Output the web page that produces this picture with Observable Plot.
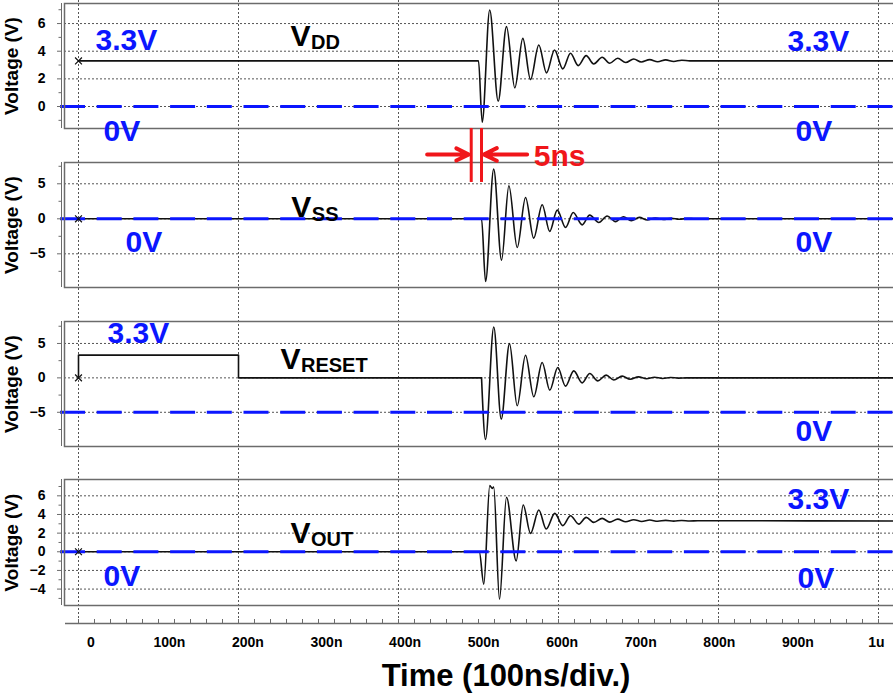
<!DOCTYPE html>
<html><head><meta charset="utf-8">
<script src="https://cdn.jsdelivr.net/npm/d3@7"></script>
<script src="https://cdn.jsdelivr.net/npm/@observablehq/plot@0.6"></script>
<style>
body{margin:0;background:#fff;}
#chart{position:relative;width:893px;height:695px;overflow:hidden;font-family:"Liberation Sans",Arial,Helvetica,sans-serif;}
#chart svg{position:absolute;left:0;overflow:visible;}
#title{position:absolute;left:256px;width:500px;top:660px;text-align:center;font:bold 31px/31px "Liberation Sans",Arial,sans-serif;color:#000;white-space:nowrap;}
</style></head><body><div id="chart"><div id="title">Time (100ns/div.)</div></div>
<script>
// ---------------- data ----------------
const timeTicks = [0, 100, 200, 300, 400, 500, 600, 700, 800, 900, 1000];
const timeTickLabels = ["0", "100n", "200n", "300n", "400n", "500n", "600n", "700n", "800n", "900n", "1u"];
const gridTimes = [0, 200, 400, 600, 800, 1000];

// VDD (ns, V)
const vddT = [0, 500, 504.6, 514, 524.6, 535, 545.4, 555.4, 565, 575.4, 585, 595, 605.4, 615, 624.6, 634.6, 644, 654.6, 664, 674, 684, 694, 703.4, 714, 724, 734, 744, 754, 764, 1025];
const vddV = [3.3, 3.3, -1.13, 6.98, 0.38, 5.78, 1.35, 4.93, 1.95, 4.45, 2.43, 4.09, 2.72, 3.85, 2.96, 3.68, 3.08, 3.56, 3.13, 3.49, 3.18, 3.44, 3.22, 3.39, 3.24, 3.37, 3.26, 3.35, 3.3, 3.3];

// VSS
const vssT = [0, 503.8, 508.8, 519, 528.8, 538, 548.4, 558.8, 569, 579.6, 589, 598.4, 608.8, 618.4, 629.6, 639, 650.4, 660.8, 671.2, 681, 691, 701, 711, 721, 731, 741, 751, 761, 771, 1025];
const vssV = [0, 0, -8.95, 7.1, -5.9, 4.71, -4.1, 3.05, -2.76, 2.0, -1.8, 1.24, -1.24, 0.9, -0.86, 0.52, -0.52, 0.4, -0.4, 0.3, -0.28, 0.2, -0.18, 0.12, -0.1, 0.08, -0.06, 0.05, 0, 0];

// VRESET: pulse, then ringing
const vresetStepT = [0, 0, 200, 200, 503.8];
const vresetStepV = [0, 3.3, 3.3, 0, 0];
const vresetT = [503.8, 508.75, 519.1, 528.4, 538.75, 548.4, 558.75, 569.1, 579.6, 589.1, 599.1, 608.75, 619.1, 629.6, 639.1, 649.1, 659.6, 669.1, 679.6, 689.6, 700, 710, 720, 730, 740, 750, 760, 1025];
const vresetV = [0, -8.93, 7.39, -5.99, 4.98, -4.06, 3.29, -2.75, 2.23, -1.78, 1.5, -1.2, 1.02, -0.72, 0.63, -0.43, 0.4, -0.3, 0.25, -0.2, 0.15, -0.12, 0.1, -0.08, 0.06, -0.04, 0, 0];

// VOUT
const voutT = [0, 501, 506.6, 514.1, 517, 519, 526.25, 535, 547.1, 555.9, 565, 575.4, 584.6, 595.4, 605.4, 615, 625.4, 634.6, 644.1, 654.6, 664, 674, 684, 694, 704, 714, 724, 734, 744, 754, 764, 774, 1025];
const voutV = [0, 0, -3.47, 7.1, 6.8, 6.95, -5.09, 5.84, -0.97, 5.02, 1.97, 4.48, 2.44, 4.12, 2.8, 3.87, 2.97, 3.69, 3.15, 3.58, 3.18, 3.5, 3.22, 3.44, 3.25, 3.4, 3.27, 3.37, 3.29, 3.35, 3.3, 3.33, 3.3];

// signal names and their anchors (ns, V)
const signalSubs = ["DD", "SS", "RESET", "OUT"];
const nameT = [265, 266, 252.5, 265];
const nameV = [4.41, 0.19, 1.33, 0.96];
const referenceLevels = [0, 0, -5, 0];
const startLevels = [3.3, 0, 0, 0];

// blue level annotations per panel
const levelLabels = [
  [{t: 21.25, v: 4.12, text: "3.3V"}, {t: 31.25, v: -2.46, text: "0V"}, {t: 886.25, v: 4.05, text: "3.3V"}, {t: 896.25, v: -2.46, text: "0V"}],
  [{t: 58.75, v: -4.81, text: "0V"}, {t: 896.25, v: -4.81, text: "0V"}],
  [{t: 36.25, v: 5.1, text: "3.3V"}, {t: 896.25, v: -9.1, text: "0V"}],
  [{t: 31.25, v: -3.64, text: "0V"}, {t: 886.25, v: 4.61, text: "3.3V"}, {t: 898.75, v: -3.86, text: "0V"}]
];

// red 5ns annotation (panel 2 coordinates)
const markerTimes = [490.9, 503.75];
const markerSpan = [5.19, 12.9];
const arrows = [{t1: 435.8, t2: 487.9, v: 9.19}, {t1: 560.8, t2: 506.6, v: 9.19}];
const markerText = [{t: 569, v: 7.47, text: "5ns"}];

// ---------------- layout ----------------
const W = 893, ML = 64, MR = -5;
const X_DOMAIN = [-17.5, 1025];
const LABEL_DOMAIN = [-33.5, 1028.1];
const BLUE = "#0b16ff", RED = "#f0161a", INK = "#111", GRID = "#555", FRAME = "#6b6b6b";
const FONT = "'Liberation Sans', Arial, Helvetica, sans-serif";
const PAD = 20;

const panels = [
  {top: 3, h: 125, domain: [-1.59, 7.45], major: [0, 2, 4, 6], minor: [-1, 1, 3, 5, 7]},
  {top: 162, h: 125, domain: [-9.81, 8.04], major: [-5, 0, 5], minor: [-7.5, -2.5, 2.5, 7.5]},
  {top: 321, h: 125, domain: [-9.97, 8.19], major: [-5, 0, 5], minor: [-7.5, -2.5, 2.5, 7.5]},
  {top: 479, h: 126, domain: [-5.76, 7.75], major: [-4, -2, 0, 2, 4, 6], minor: [-5, -3, -1, 1, 3, 5, 7]}
];

const zip = (T, V) => T.map((t, i) => ({t, v: V[i]}));
const series = [
  [{d: zip(vddT, vddV), curve: "monotone-x"}],
  [{d: zip(vssT, vssV), curve: "monotone-x"}],
  [{d: zip(vresetStepT, vresetStepV), curve: "linear"}, {d: zip(vresetT, vresetV), curve: "monotone-x"}],
  [{d: zip(voutT, voutV), curve: "monotone-x"}]
];

const chart = document.getElementById("chart");
function place(svg, top) { svg.style.top = top + "px"; chart.insertBefore(svg, document.getElementById("title")); }

// background: vertical grid + time axis line and ticks
const minorTimeTicks = d3.range(0, 1021, 20);
place(Plot.plot({
  width: W, height: 695, marginTop: 0, marginBottom: 72, marginLeft: ML, marginRight: MR,
  x: {domain: X_DOMAIN, axis: null}, y: {domain: [0, 1], axis: null},
  style: {background: "white", overflow: "visible"},
  marks: [
    Plot.ruleX(gridTimes, {stroke: GRID, strokeDasharray: "2,2", strokeWidth: 1}),
    Plot.ruleY([0], {stroke: FRAME, strokeWidth: 1.5, insetLeft: 1}),
    Plot.axisX(minorTimeTicks, {anchor: "bottom", tickSize: 4, dy: -4, tickFormat: () => "", stroke: FRAME, label: null})
  ]
}), 0);

// tick labels row
place(Plot.plot({
  width: W, height: 40, marginTop: 0, marginBottom: 30, marginLeft: ML, marginRight: MR,
  x: {domain: LABEL_DOMAIN, axis: null},
  style: {background: "transparent", overflow: "visible", fontFamily: FONT},
  marks: [
    Plot.axisX(timeTicks, {anchor: "bottom", tickSize: 0, tickPadding: 14, fontSize: 14, fontWeight: "bold", fill: "#000",
      tickFormat: d => timeTickLabels[timeTicks.indexOf(d)], label: null})
  ]
}), 613);

// panels
panels.forEach((p, k) => {
  const marks = [
    Plot.ruleY(p.major, {stroke: GRID, strokeDasharray: "2,2", strokeWidth: 1}),
    ...series[k].map(s => Plot.line(s.d, {x: "t", y: "v", curve: s.curve, stroke: INK, strokeWidth: 1.6})),
    Plot.ruleY([referenceLevels[k]], {stroke: BLUE, strokeWidth: 3, strokeDasharray: "25,11.7", insetLeft: -4}),
    Plot.dot([{t: 0, v: startLevels[k]}], {x: "t", y: "v", symbol: "times", r: 3.2, stroke: INK, strokeWidth: 1.2}),
    Plot.frame({stroke: FRAME, strokeWidth: 1.5}),
    Plot.ruleX([X_DOMAIN[0]], {dx: -3, stroke: FRAME, strokeWidth: 1}),
    Plot.axisY(p.major, {anchor: "left", tickSize: 4, dx: -3, tickPadding: 12, fontSize: 14, fontWeight: "bold", fill: "#000", stroke: FRAME, label: null}),
    Plot.axisY(p.minor, {anchor: "left", tickSize: 2.5, dx: -3, tickFormat: () => "", stroke: FRAME, label: null}),
    Plot.text(["Voltage (V)"], {text: d => d, frameAnchor: "left", rotate: -90, dx: -60.5, textAnchor: "middle", lineAnchor: "top", fontSize: 19, fontWeight: "bold", fill: "#000"}),
    Plot.text([{t: nameT[k], v: nameV[k]}], {x: "t", y: "v", text: () => "V", textAnchor: "start", lineAnchor: "bottom", fontSize: 30, fontWeight: "bold", fill: "#000"}),
    Plot.text([{t: nameT[k], v: nameV[k]}], {x: "t", y: "v", text: () => signalSubs[k], textAnchor: "start", lineAnchor: "bottom", dx: 20.5, dy: 3.5, fontSize: 20, fontWeight: "bold", fill: "#000"}),
    Plot.text(levelLabels[k], {x: "t", y: "v", text: "text", textAnchor: "start", lineAnchor: "bottom", fontSize: 30, fontWeight: "bold", fill: BLUE})
  ];
  if (k === 1) {
    marks.push(
      Plot.ruleX(markerTimes, {y1: markerSpan[0], y2: markerSpan[1], stroke: RED, strokeWidth: 3}),
      Plot.arrow(arrows, {x1: "t1", x2: "t2", y1: "v", y2: "v", stroke: RED, strokeWidth: 4, headLength: 7, headAngle: 52}),
      Plot.text(markerText, {x: "t", y: "v", text: "text", textAnchor: "start", lineAnchor: "bottom", fontSize: 30, fontWeight: "bold", fill: RED})
    );
  }
  place(Plot.plot({
    width: W, height: p.h + 2 * PAD, marginTop: PAD, marginBottom: PAD, marginLeft: ML, marginRight: MR,
    x: {domain: X_DOMAIN, axis: null},
    y: {domain: p.domain, axis: null, label: null},
    style: {background: "transparent", overflow: "visible", fontFamily: FONT},
    marks
  }), p.top - PAD);
});
</script></body></html>
